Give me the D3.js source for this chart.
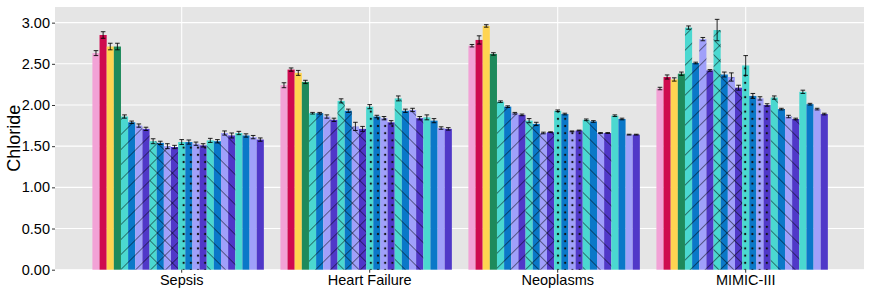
<!DOCTYPE html>
<html>
<head>
<meta charset="utf-8">
<script src="https://cdn.jsdelivr.net/npm/d3@7"></script>
<style>
  body { margin: 0; background: #fff; }
  text { font-family: "Liberation Sans", Arial, sans-serif; }
</style>
</head>
<body>
<div class="bar-chart"></div>
<script>
// groups on the x axis
const groups = ["Sepsis", "Heart Failure", "Neoplasms", "MIMIC-III"];

// 24 bars per group (slot 25 is left empty, like the original dodge)
const sepsis       = [2.63, 2.85, 2.71, 2.71, 1.86, 1.79, 1.75, 1.71, 1.56, 1.54, 1.50, 1.49, 1.55, 1.55, 1.53, 1.51, 1.57, 1.56, 1.66, 1.63, 1.66, 1.63, 1.61, 1.58];
const heartFailure = [2.24, 2.43, 2.39, 2.28, 1.90, 1.90, 1.86, 1.82, 2.05, 1.93, 1.74, 1.71, 1.98, 1.86, 1.84, 1.79, 2.08, 1.93, 1.94, 1.84, 1.85, 1.81, 1.72, 1.71];
const neoplasms    = [2.72, 2.79, 2.96, 2.62, 2.04, 1.98, 1.90, 1.88, 1.81, 1.77, 1.66, 1.67, 1.93, 1.89, 1.68, 1.69, 1.82, 1.80, 1.66, 1.66, 1.87, 1.83, 1.64, 1.64];
const mimic        = [2.20, 2.34, 2.31, 2.38, 2.94, 2.51, 2.80, 2.42, 2.91, 2.37, 2.34, 2.21, 2.48, 2.11, 2.08, 2.00, 2.09, 1.95, 1.86, 1.83, 2.16, 2.01, 1.95, 1.89];

// error bar half widths
const sepsisErr       = [0.03, 0.04, 0.04, 0.04, 0.02, 0.015, 0.02, 0.02, 0.03, 0.02, 0.03, 0.02, 0.03, 0.025, 0.02, 0.02, 0.025, 0.02, 0.025, 0.03, 0.02, 0.02, 0.02, 0.02];
const heartFailureErr = [0.03, 0.02, 0.03, 0.02, 0.01, 0.01, 0.02, 0.02, 0.025, 0.02, 0.05, 0.03, 0.025, 0.015, 0.02, 0.02, 0.03, 0.02, 0.02, 0.02, 0.03, 0.025, 0.015, 0.015];
const neoplasmsErr    = [0.015, 0.05, 0.015, 0.015, 0.01, 0.01, 0.01, 0.01, 0.025, 0.02, 0.01, 0.005, 0.01, 0.01, 0.005, 0.005, 0.01, 0.01, 0.005, 0.005, 0.01, 0.01, 0.005, 0.005];
const mimicErr        = [0.015, 0.025, 0.02, 0.02, 0.02, 0.01, 0.02, 0.01, 0.13, 0.03, 0.05, 0.03, 0.12, 0.03, 0.02, 0.015, 0.02, 0.01, 0.015, 0.01, 0.02, 0.01, 0.01, 0.01];

const yTicks = [0, 0.5, 1, 1.5, 2, 2.5, 3];

const values = [sepsis, heartFailure, neoplasms, mimic];
const errors = [sepsisErr, heartFailureErr, neoplasmsErr, mimicErr];

// styles
const solidColors = ["#f2a2d6", "#cf0a4f", "#ffd451", "#1e8a5c"];
const cycleColors = ["#4bd8d0", "#0a78c8", "#a0a0fa", "#5038c8"];
const patterns = ["up", "cross", "dots", "down", "none"];

function barColor(i){
    if (i < 4) return solidColors[i];
    return cycleColors[(i - 4) % 4];
}
function barPattern(i){
    if (i < 4) return "none";
    return patterns[Math.floor((i - 4) / 4)];
}

const W = 872, H = 292;
const panel = {left: 55, right: 864, top: 7, bottom: 269.7};

const svg = d3.select(".bar-chart")
    .append("svg")
    .attr("width", W)
    .attr("height", H);

// pattern defs
const defs = svg.append("defs");
const sp = 10.6;
function stripe(id, angle, cross){
    const p = defs.append("pattern")
        .attr("id", id)
        .attr("patternUnits", "userSpaceOnUse")
        .attr("width", sp).attr("height", sp)
        .attr("patternTransform", `rotate(${angle})`);
    p.append("line").attr("x1", 0).attr("y1", 0).attr("x2", 0).attr("y2", sp)
        .attr("stroke", "#000").attr("stroke-width", 1.1).attr("stroke-opacity", 0.85);
    if (cross){
        p.append("line").attr("x1", 0).attr("y1", 0).attr("x2", sp).attr("y2", 0)
            .attr("stroke", "#000").attr("stroke-width", 1.1).attr("stroke-opacity", 0.85);
    }
}
stripe("up", 45, false);
stripe("down", -45, false);
stripe("cross", 45, true);
const dp = defs.append("pattern")
    .attr("id", "dots")
    .attr("patternUnits", "userSpaceOnUse")
    .attr("width", 7.2).attr("height", 7.2);
dp.append("rect").attr("x", 2.6).attr("y", 2.6).attr("width", 2).attr("height", 2)
    .attr("fill", "#111");

// scales
const yScale = d3.scaleLinear()
    .domain([0, 3.19])
    .range([panel.bottom, panel.top]);

const xScale = d3.scaleBand()
    .domain(groups)
    .range([87.7, 839.7])
    .paddingInner(0);

const dodge = 0.95;
const xInner = d3.scaleBand()
    .domain(d3.range(25))
    .range([0, xScale.bandwidth() * dodge]);
const innerOffset = xScale.bandwidth() * (1 - dodge) / 2;

// panel background
svg.append("rect")
    .attr("x", panel.left).attr("y", panel.top)
    .attr("width", panel.right - panel.left)
    .attr("height", panel.bottom - panel.top)
    .attr("fill", "#e5e5e5");

// grid
svg.selectAll(".hgrid")
    .data(yTicks)
    .enter()
    .append("line")
    .attr("x1", panel.left).attr("x2", panel.right)
    .attr("y1", d => yScale(d)).attr("y2", d => yScale(d))
    .attr("stroke", "#fff").attr("stroke-width", 1.1);

svg.selectAll(".vgrid")
    .data(groups)
    .enter()
    .append("line")
    .attr("x1", d => xScale(d) + xScale.bandwidth() / 2)
    .attr("x2", d => xScale(d) + xScale.bandwidth() / 2)
    .attr("y1", panel.top).attr("y2", panel.bottom)
    .attr("stroke", "#fff").attr("stroke-width", 1.1);

// flatten bars
const bars = [];
groups.forEach((g, gi) => {
    values[gi].forEach((v, i) => {
        bars.push({group: g, idx: i, value: v, err: errors[gi][i]});
    });
});

const barX = d => xScale(d.group) + innerOffset + xInner(d.idx);
const bw = xInner.bandwidth();

svg.selectAll(".bar")
    .data(bars)
    .enter()
    .append("rect")
    .attr("class", "bar")
    .attr("x", barX)
    .attr("y", d => yScale(d.value))
    .attr("width", bw)
    .attr("height", d => yScale(0) - yScale(d.value))
    .attr("fill", d => barColor(d.idx));

svg.selectAll(".pat")
    .data(bars.filter(d => barPattern(d.idx) != "none"))
    .enter()
    .append("rect")
    .attr("class", "pat")
    .attr("x", barX)
    .attr("y", d => yScale(d.value))
    .attr("width", bw)
    .attr("height", d => yScale(0) - yScale(d.value))
    .attr("fill", d => `url(#${barPattern(d.idx)})`);

// error bars
const eb = svg.selectAll(".err")
    .data(bars)
    .enter()
    .append("g")
    .attr("class", "err")
    .attr("stroke", "#000")
    .attr("stroke-opacity", 0.85)
    .attr("stroke-width", 1);

const cap = 2.3;
eb.append("line")
    .attr("x1", d => barX(d) + bw / 2).attr("x2", d => barX(d) + bw / 2)
    .attr("y1", d => yScale(d.value - d.err)).attr("y2", d => yScale(d.value + d.err));
eb.append("line")
    .attr("x1", d => barX(d) + bw / 2 - cap).attr("x2", d => barX(d) + bw / 2 + cap)
    .attr("y1", d => yScale(d.value + d.err)).attr("y2", d => yScale(d.value + d.err));
eb.append("line")
    .attr("x1", d => barX(d) + bw / 2 - cap).attr("x2", d => barX(d) + bw / 2 + cap)
    .attr("y1", d => yScale(d.value - d.err)).attr("y2", d => yScale(d.value - d.err));

// axes
const yAxis = d3.axisLeft(yScale)
    .tickValues(yTicks)
    .tickFormat(d3.format(".2f"))
    .tickSize(3)
    .tickPadding(2);

const gy = svg.append("g")
    .attr("class", "axis y-axis")
    .attr("transform", `translate(${panel.left},0)`)
    .call(yAxis);
gy.select(".domain").remove();
gy.selectAll(".tick line").attr("stroke", "#333");
gy.selectAll("text")
    .attr("fill", "#000")
    .style("font-size", "14.5px")
    .style("font-family", "'Liberation Sans', Arial, sans-serif");

const xAxis = d3.axisBottom(xScale)
    .tickSize(3)
    .tickPadding(2);

const gx = svg.append("g")
    .attr("class", "axis x-axis")
    .attr("transform", `translate(0,${panel.bottom})`)
    .call(xAxis);
gx.select(".domain").remove();
gx.selectAll(".tick line").attr("stroke", "#333");
gx.selectAll("text")
    .attr("fill", "#000")
    .style("font-size", "14.5px")
    .style("font-family", "'Liberation Sans', Arial, sans-serif");

// y title
svg.append("text")
    .attr("class", "y-axis-title")
    .attr("transform", `translate(20,${(panel.top + panel.bottom) / 2}) rotate(-90)`)
    .attr("text-anchor", "middle")
    .style("font-size", "18px")
    .attr("fill", "#000")
    .text("Chloride");
</script>
</body>
</html>
